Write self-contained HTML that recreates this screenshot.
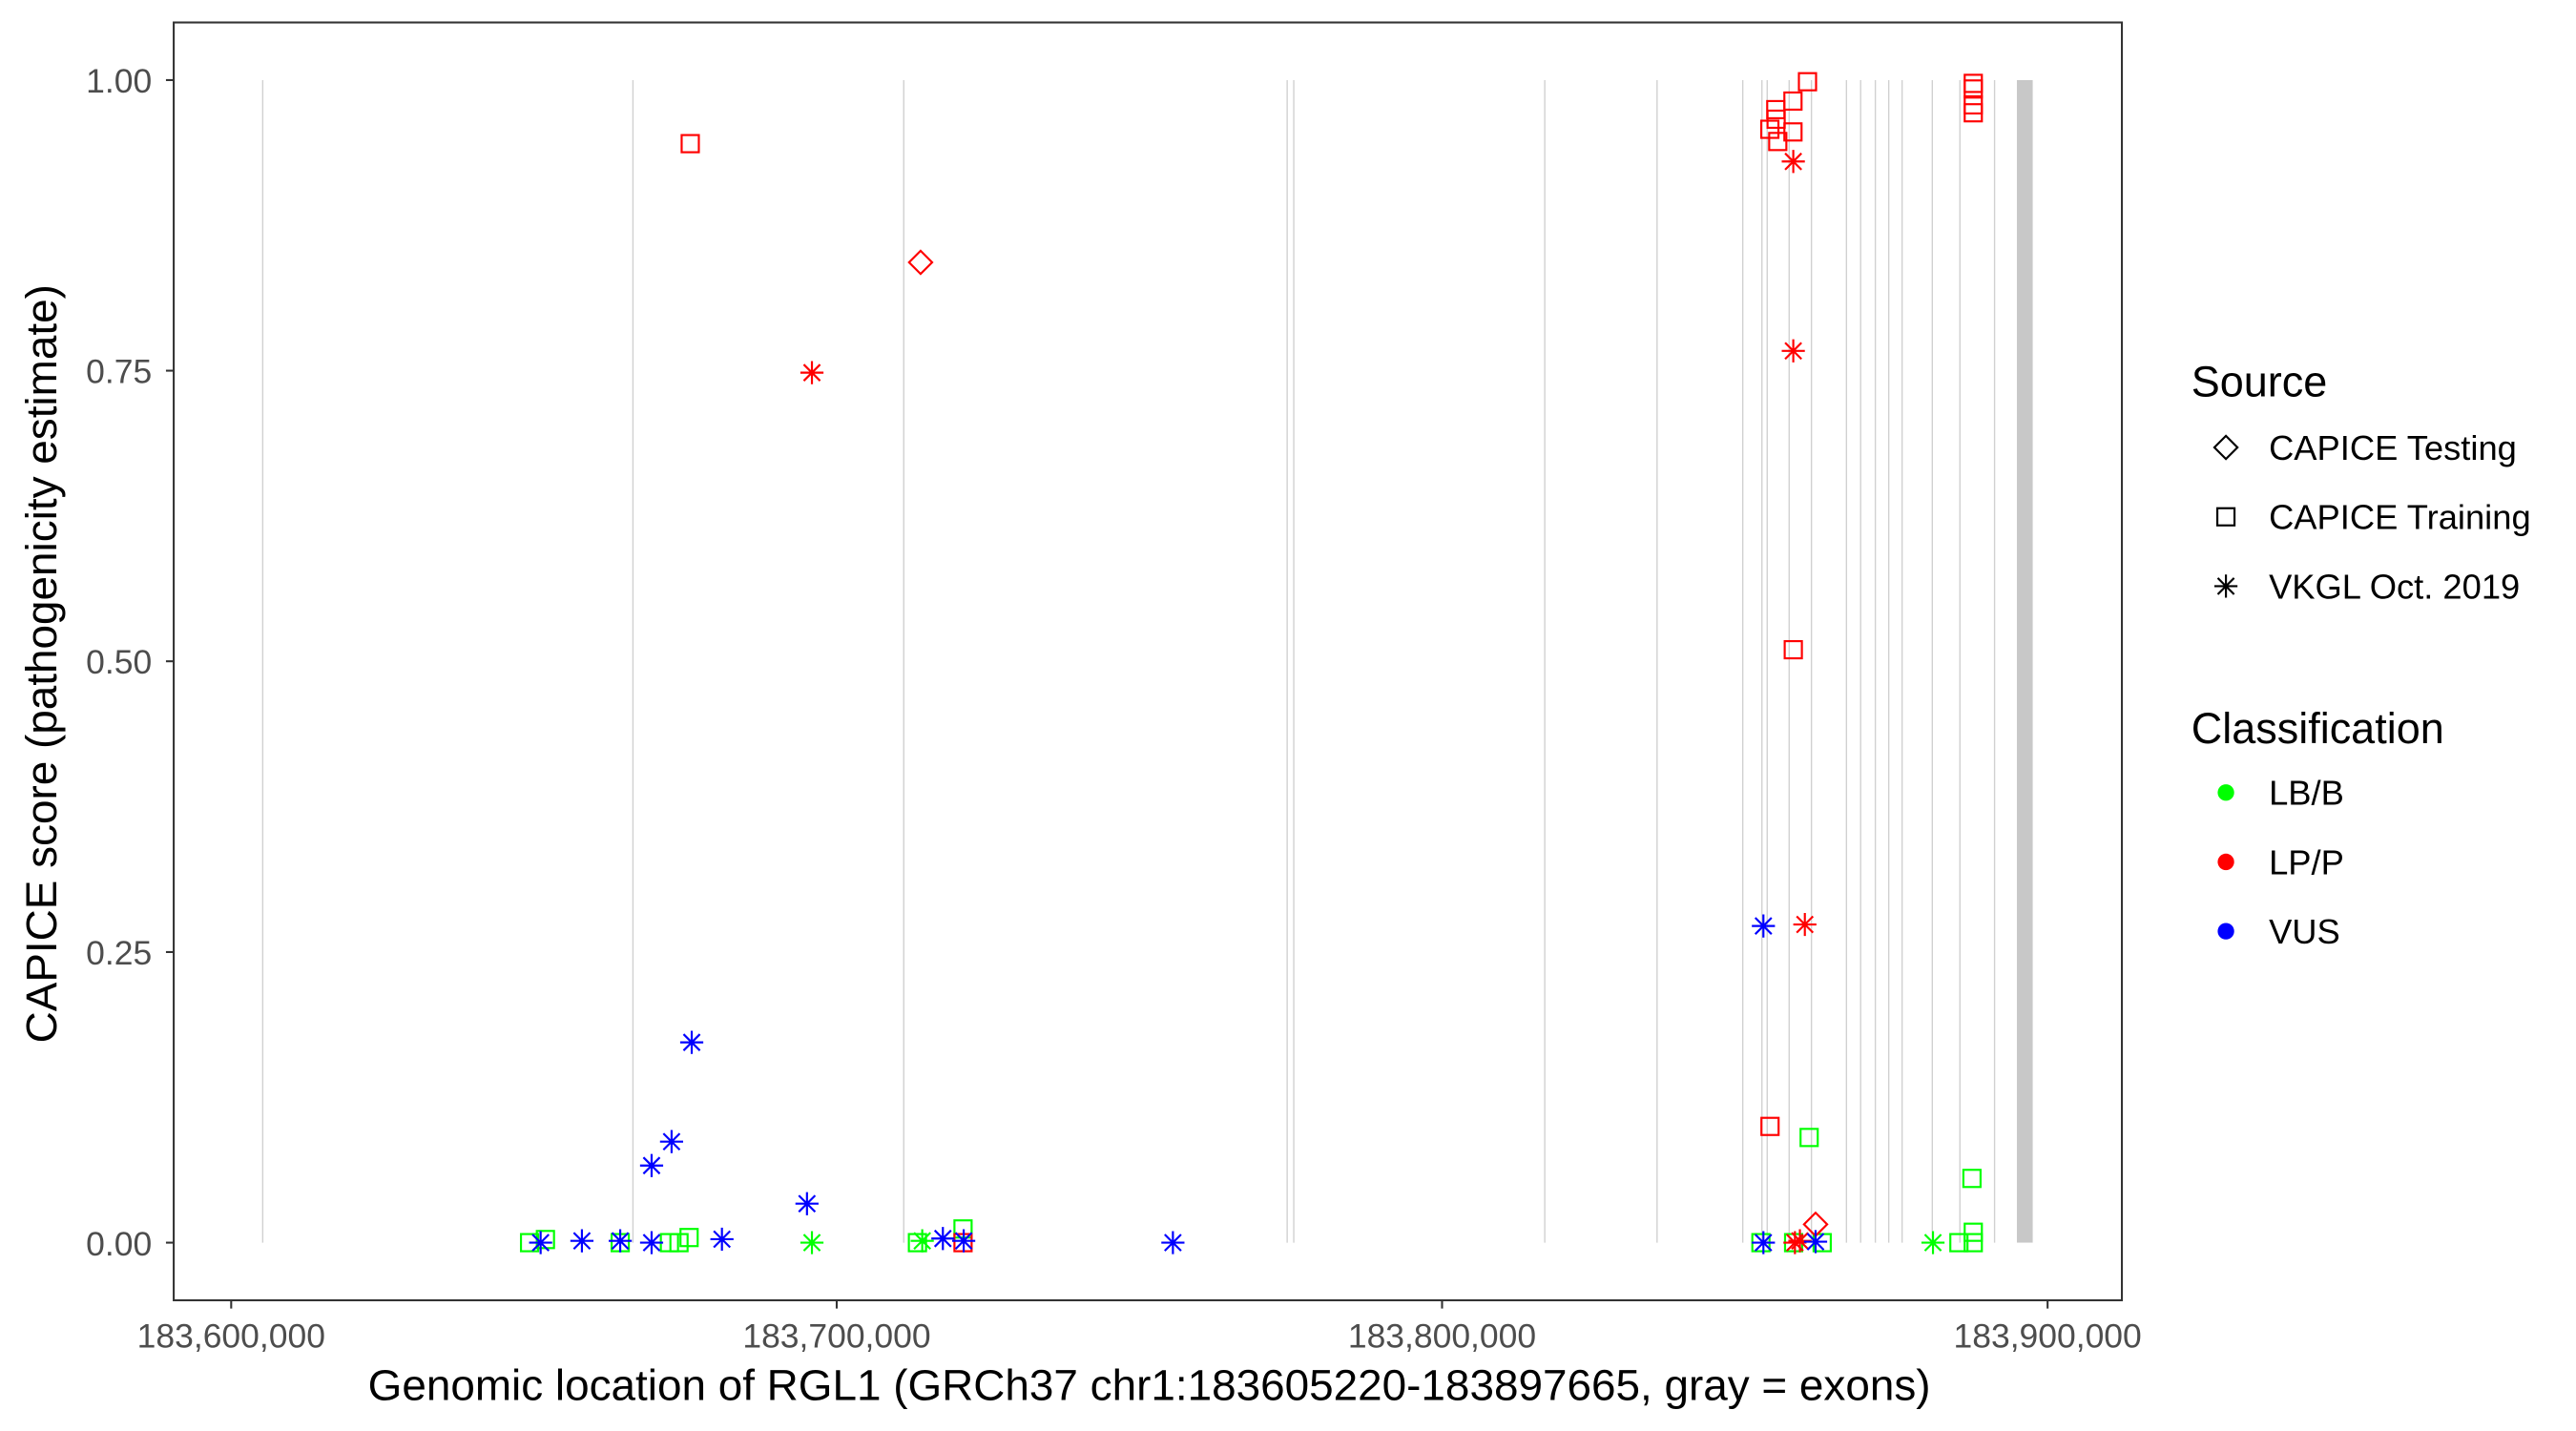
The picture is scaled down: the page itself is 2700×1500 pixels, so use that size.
<!DOCTYPE html>
<html><head><meta charset="utf-8"><style>html,body{margin:0;padding:0;background:#fff}svg{display:block}</style></head><body>
<svg width="2700" height="1500" viewBox="0 0 1560 866.67" xmlns="http://www.w3.org/2000/svg" font-family="Liberation Sans, Arial, sans-serif">
<defs>
<g id="sq"><rect x="-5.2" y="-5.2" width="10.4" height="10.4" fill="none" stroke-width="1.25"/></g>
<g id="di"><path d="M0,-7 L7,0 L0,7 L-7,0 Z" fill="none" stroke-width="1.25"/></g>
<g id="as"><path d="M-7,0 H7 M0,-7 V7 M-4.95,-4.95 L4.95,4.95 M4.95,-4.95 L-4.95,4.95" fill="none" stroke-width="1.25"/></g>
</defs>
<rect width="1560" height="866.67" fill="#fff"/>
<g stroke="#d0d0d0" stroke-width="0.8">
<line x1="159.1" y1="48.5" x2="159.1" y2="752.6"/><line x1="383.3" y1="48.5" x2="383.3" y2="752.6"/><line x1="547.3" y1="48.5" x2="547.3" y2="752.6"/><line x1="779.5" y1="48.5" x2="779.5" y2="752.6"/><line x1="783.5" y1="48.5" x2="783.5" y2="752.6"/><line x1="935.5" y1="48.5" x2="935.5" y2="752.6"/><line x1="1003.5" y1="48.5" x2="1003.5" y2="752.6"/>
<line x1="1055.4" y1="48.5" x2="1055.4" y2="752.6"/><line x1="1067" y1="48.5" x2="1067" y2="752.6"/><line x1="1070.2" y1="48.5" x2="1070.2" y2="752.6"/><line x1="1083.5" y1="48.5" x2="1083.5" y2="752.6"/><line x1="1097" y1="48.5" x2="1097" y2="752.6"/><line x1="1118.2" y1="48.5" x2="1118.2" y2="752.6"/><line x1="1126.8" y1="48.5" x2="1126.8" y2="752.6"/><line x1="1135.7" y1="48.5" x2="1135.7" y2="752.6"/><line x1="1143.8" y1="48.5" x2="1143.8" y2="752.6"/><line x1="1151.9" y1="48.5" x2="1151.9" y2="752.6"/><line x1="1170.2" y1="48.5" x2="1170.2" y2="752.6"/><line x1="1186.9" y1="48.5" x2="1186.9" y2="752.6"/><line x1="1207.9" y1="48.5" x2="1207.9" y2="752.6"/>
</g>
<rect x="1221.4" y="48.5" width="9.6" height="704.1" fill="#c8c8c8"/>
<g stroke="#00ff00">
<use href="#sq" x="320.7" y="752.6"/><use href="#sq" x="330.3" y="750.7"/><use href="#sq" x="375.6" y="752.6"/><use href="#sq" x="405.4" y="752.6"/><use href="#sq" x="411.2" y="752.6"/><use href="#sq" x="417.3" y="749.5"/><use href="#sq" x="555.6" y="752.6"/><use href="#sq" x="583.2" y="744.3"/><use href="#sq" x="1066.4" y="752.6"/><use href="#sq" x="1086.2" y="752.6"/><use href="#sq" x="1103.5" y="752.6"/><use href="#sq" x="1095.6" y="688.9"/><use href="#sq" x="1194.2" y="713.7"/><use href="#sq" x="1195" y="746.3"/><use href="#sq" x="1195" y="752.6"/><use href="#sq" x="1186.3" y="752.6"/>
<use href="#as" x="491.7" y="752.6"/><use href="#as" x="558.5" y="751.5"/><use href="#as" x="1170.6" y="752.6"/>
</g>
<g stroke="#ff0000">
<use href="#sq" x="418" y="87"/><use href="#sq" x="1094.6" y="49.5"/><use href="#sq" x="1085.8" y="61.2"/><use href="#sq" x="1075.4" y="66.4"/><use href="#sq" x="1075.6" y="72.2"/><use href="#sq" x="1071.8" y="78.3"/><use href="#sq" x="1085.8" y="79.9"/><use href="#sq" x="1076.6" y="85.7"/><use href="#sq" x="1086" y="393.5"/><use href="#sq" x="1071.9" y="682.2"/><use href="#sq" x="1195" y="50.5"/><use href="#sq" x="1195" y="53.9"/><use href="#sq" x="1195" y="63.5"/><use href="#sq" x="1195" y="68.3"/><use href="#sq" x="583.2" y="752.6"/>
<use href="#di" x="557.5" y="158.9"/><use href="#di" x="1099.5" y="741.5"/>
<use href="#as" x="491.7" y="225.7"/><use href="#as" x="1086" y="97.8"/><use href="#as" x="1086" y="212.5"/><use href="#as" x="1093" y="559.9"/><use href="#as" x="1090" y="751.5"/><use href="#as" x="1087" y="752.6"/>
</g>
<g stroke="#0000ff">
<use href="#as" x="327.4" y="752.6"/><use href="#as" x="352.4" y="751.5"/><use href="#as" x="375.6" y="751.5"/><use href="#as" x="394.6" y="752.6"/><use href="#as" x="394.6" y="705.9"/><use href="#as" x="406.7" y="691.4"/><use href="#as" x="418.9" y="631.3"/><use href="#as" x="437.2" y="750.5"/><use href="#as" x="488.7" y="729"/><use href="#as" x="571" y="750.1"/><use href="#as" x="583.6" y="751.5"/><use href="#as" x="710.3" y="752.6"/><use href="#as" x="1067.9" y="752.6"/><use href="#as" x="1067.9" y="560.8"/><use href="#as" x="1099.5" y="752"/>
</g>
<rect x="105.2" y="13.6" width="1179.8" height="773.9" fill="none" stroke="#333" stroke-width="1.2"/>
<g stroke="#333" stroke-width="1.2">
<line x1="100.5" y1="48.5" x2="105.2" y2="48.5"/><line x1="100.5" y1="224.5" x2="105.2" y2="224.5"/><line x1="100.5" y1="400.5" x2="105.2" y2="400.5"/><line x1="100.5" y1="576.6" x2="105.2" y2="576.6"/><line x1="100.5" y1="752.6" x2="105.2" y2="752.6"/>
<line x1="140" y1="787.5" x2="140" y2="792.5"/><line x1="506.7" y1="787.5" x2="506.7" y2="792.5"/><line x1="873.3" y1="787.5" x2="873.3" y2="792.5"/><line x1="1240" y1="787.5" x2="1240" y2="792.5"/>
</g>
<g fill="#4d4d4d" font-size="20.5" text-anchor="end">
<text x="92" y="56">1.00</text><text x="92" y="232">0.75</text><text x="92" y="408">0.50</text><text x="92" y="584">0.25</text><text x="92" y="760.5">0.00</text>
</g>
<g fill="#4d4d4d" font-size="20.5" text-anchor="middle">
<text x="140" y="816">183,600,000</text><text x="506.7" y="816">183,700,000</text><text x="873.3" y="816">183,800,000</text><text x="1240" y="816">183,900,000</text>
</g>
<text x="696" y="848" font-size="26.5" text-anchor="middle" fill="#000">Genomic location of RGL1 (GRCh37 chr1:183605220-183897665, gray = exons)</text>
<text transform="translate(34,402) rotate(-90)" font-size="26.5" text-anchor="middle" fill="#000">CAPICE score (pathogenicity estimate)</text>
<text x="1327" y="240" font-size="26" fill="#000">Source</text>
<g stroke="#000"><use href="#di" x="1348" y="271"/><use href="#sq" x="1348" y="313"/><use href="#as" x="1348" y="355"/></g>
<g font-size="21" fill="#000">
<text x="1374" y="278.5">CAPICE Testing</text><text x="1374" y="320.5">CAPICE Training</text><text x="1374" y="362.5">VKGL Oct. 2019</text>
</g>
<text x="1327" y="450" font-size="26" fill="#000">Classification</text>
<circle cx="1348" cy="480" r="5" fill="#00ff00"/><circle cx="1348" cy="522" r="5" fill="#ff0000"/><circle cx="1348" cy="564" r="5" fill="#0000ff"/>
<g font-size="21" fill="#000">
<text x="1374" y="487.5">LB/B</text><text x="1374" y="529.5">LP/P</text><text x="1374" y="571.5">VUS</text>
</g>
</svg>
</body></html>
